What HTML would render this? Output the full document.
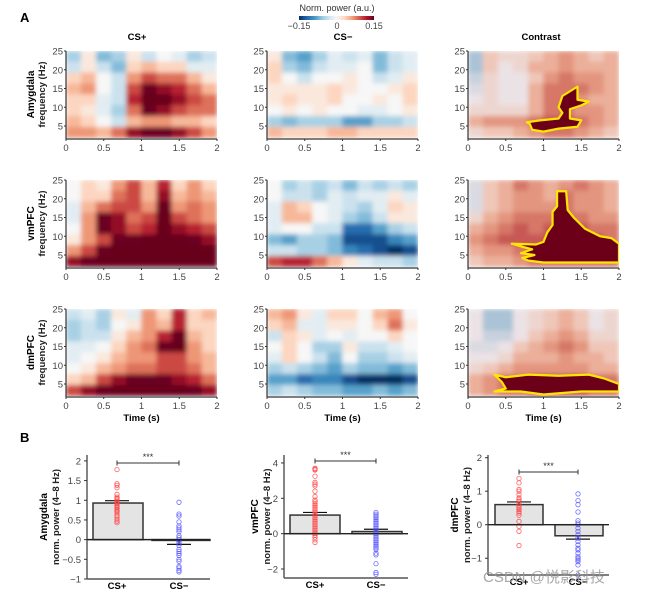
<!DOCTYPE html>
<html><head><meta charset="utf-8">
<style>
html,body{margin:0;padding:0;background:#fff;}
svg{display:block;font-family:"Liberation Sans",Arial,sans-serif;}
</style></head>
<body>
<svg id="fig" width="652" height="594" viewBox="0 0 652 594" xmlns="http://www.w3.org/2000/svg">
<defs>
<linearGradient id="cbar" x1="0" x2="1" y1="0" y2="0">
<stop offset="0" stop-color="#053061"/><stop offset="0.1" stop-color="#2166ac"/><stop offset="0.2" stop-color="#4393c3"/><stop offset="0.3" stop-color="#92c5de"/><stop offset="0.4" stop-color="#d1e5f0"/><stop offset="0.5" stop-color="#f7f7f7"/><stop offset="0.6" stop-color="#fddbc7"/><stop offset="0.7" stop-color="#f4a582"/><stop offset="0.8" stop-color="#d6604d"/><stop offset="0.9" stop-color="#b2182b"/><stop offset="1" stop-color="#67001f"/>
</linearGradient>
<filter id="blur" x="0" y="0" width="1" height="1"><feGaussianBlur stdDeviation="2.5" edgeMode="duplicate"/></filter>
</defs>
<text x="20" y="22" font-size="13" font-weight="bold">A</text>
<text x="20" y="442" font-size="13" font-weight="bold">B</text>
<text x="337" y="11" font-size="9" fill="#333" text-anchor="middle">Norm. power (a.u.)</text>
<rect x="299" y="16" width="75" height="4" fill="url(#cbar)"/>
<text x="299" y="29" font-size="9" fill="#444" text-anchor="middle">−0.15</text>
<text x="337" y="29" font-size="9" fill="#444" text-anchor="middle">0</text>
<text x="374" y="29" font-size="9" fill="#444" text-anchor="middle">0.15</text>
<text x="137" y="40" font-size="9.5" font-weight="bold" text-anchor="middle">CS+</text>
<text x="343" y="40" font-size="9.5" font-weight="bold" text-anchor="middle">CS−</text>
<text x="541" y="40" font-size="9.5" font-weight="bold" text-anchor="middle">Contrast</text>
</svg>
<script>
// ---- heatmap data: rows = freq bands from 25 Hz down to ~2 Hz, cols = time bins 0..2 s ----
const timeTicks=[0,0.5,1,1.5,2];
const freqTicks=[5,10,15,20,25];
const regionNames=["Amygdala","vmPFC","dmPFC"];
const amyCSp=[[-0.3,0.1,-0.4,-0.3,0.1,-0.2,0,-0.1,-0.3,-0.2],[-0.2,0.1,-0.2,-0.4,0.2,0.3,0.2,0.2,-0.1,-0.1],[0.2,0.3,0,-0.2,0.4,0.6,0.5,0.5,0.3,0.1],[0.3,0.4,0,-0.2,0.6,0.9,0.8,0.7,0.5,0.3],[0.2,0.2,-0.1,-0.2,0.7,1,1,0.8,0.6,0.5],[0.2,0.1,-0.1,-0.3,0.5,0.9,0.8,0.6,0.5,0.5],[0.3,0.2,0,-0.2,0.3,0.4,0.4,0.3,0.3,0.2],[0.4,0.4,0.3,0.5,0.8,0.9,0.9,0.8,0.6,0.4]];
const amyCSm=[[0.1,-0.4,-0.5,-0.3,-0.1,-0.2,-0.1,-0.4,-0.2,-0.1],[0.2,-0.3,-0.4,-0.2,-0.1,-0.1,0,-0.4,-0.2,-0.1],[0.2,0,-0.2,0,0,0.1,0,-0.2,-0.1,0.1],[0.1,0.1,0.1,0.1,0.2,0.1,0,0,0.1,0.2],[0.1,0.2,0.1,0.1,0.2,0,0,0.1,0,0.2],[0,0.1,0,0.1,0,0,-0.1,-0.1,0,0.1],[-0.3,-0.4,-0.3,-0.3,-0.3,-0.5,-0.5,-0.3,-0.3,-0.2],[0.3,0.2,0.2,0.2,0.3,0.3,0.2,0.2,0.2,0.2]];
const amyCon=[[-0.3,0.2,0.1,0.1,0.2,0.3,0.4,0.3,0.2,0.3],[-0.3,0.2,0,0.1,0.3,0.3,0.4,0.3,0.3,0.3],[-0.2,0.1,0,0,0.2,0.4,0.5,0.4,0.4,0.3],[-0.1,0.1,0,0,0.3,0.5,0.5,0.5,0.4,0.3],[0,0.1,0,0,0.3,0.5,0.5,0.4,0.3,0.3],[0.1,0.1,0.1,0.1,0.3,0.5,0.5,0.4,0.4,0.3],[0.3,0.4,0.4,0.4,0.5,0.6,0.6,0.5,0.4,0.3],[0.1,0.2,0.2,0.3,0.4,0.5,0.5,0.4,0.3,0.2]];
const vmCSp=[[0,0.2,0.1,0.4,0.6,0.3,0.7,0.2,0.4,0.2],[0,0.2,0.2,0.5,0.6,0.3,0.8,0.3,0.4,0.3],[-0.1,0.3,0.5,0.6,0.6,0.4,0.9,0.4,0.5,0.4],[-0.1,0.4,0.9,0.8,0.5,0.6,1,0.6,0.5,0.4],[0,0.4,0.9,0.8,0.6,0.7,1,0.8,0.7,0.6],[0.1,0.4,0.6,0.9,0.9,1,1,1,0.9,0.8],[0.4,0.6,0.9,1,1,1,1,1,1,1],[0.8,0.9,1,1,1,1,1,1,1,1]];
const vmCSm=[[0,-0.3,-0.2,-0.3,-0.2,-0.4,-0.2,-0.3,-0.2,-0.3],[0,-0.2,-0.2,-0.3,-0.1,-0.2,-0.1,-0.1,0.1,-0.1],[-0.1,0.3,0.2,0,-0.1,-0.2,-0.3,-0.1,0.2,0.1],[-0.1,0.3,0.3,0,-0.1,-0.3,-0.4,-0.2,0.1,0.1],[-0.1,0,0,-0.2,-0.2,-0.7,-0.7,-0.5,-0.3,-0.2],[-0.4,-0.5,-0.3,-0.3,-0.4,-0.8,-0.8,-0.8,-0.6,-0.5],[-0.2,-0.2,-0.3,-0.3,-0.4,-0.6,-0.7,-0.8,-0.9,-0.8],[0.6,0.7,0.7,0.5,0.3,0.1,-0.1,-0.2,-0.2,-0.3]];
const vmCon=[[-0.1,0.2,0.3,0.5,0.4,0.3,0.4,0.5,0.4,0.3],[-0.1,0.2,0.3,0.4,0.4,0.3,0.5,0.4,0.4,0.3],[-0.1,0.2,0.3,0.4,0.4,0.4,0.5,0.4,0.4,0.3],[0.1,0.3,0.4,0.5,0.5,0.5,0.5,0.5,0.4,0.4],[0.3,0.4,0.5,0.6,0.5,0.6,0.6,0.6,0.5,0.5],[0.4,0.5,0.6,0.6,0.6,0.6,0.6,0.6,0.6,0.5],[0.3,0.4,0.4,0.5,0.6,0.6,0.6,0.6,0.6,0.6],[0.2,0.3,0.3,0.4,0.5,0.5,0.5,0.5,0.5,0.5]];
const dmCSp=[[-0.2,-0.1,-0.3,0.1,-0.1,0.4,0.2,0.7,0.2,0.3],[-0.3,-0.2,-0.3,0,0.1,0.4,0.3,0.7,0.2,0.2],[-0.3,-0.2,-0.2,0.1,0.3,0.4,0.7,0.9,0.3,0.2],[-0.1,-0.1,0,0.2,0.4,0.5,0.9,1,0.4,0.2],[-0.1,0,0.1,0.3,0.4,0.4,0.6,0.6,0.4,0.3],[0,0.1,0.3,0.4,0.5,0.5,0.6,0.6,0.5,0.3],[0.2,0.3,0.6,0.8,0.9,0.9,0.9,0.8,0.7,0.5],[0.6,0.8,0.9,1,1,1,1,1,0.9,0.8]];
const dmCSm=[[0.3,0.4,0.1,-0.1,0.2,0.2,0,0.3,0.4,0],[0.2,0.3,-0.1,-0.1,0.1,0.1,0,0.2,0.5,0.1],[-0.2,0.2,0.1,-0.1,0,-0.1,0,0,0.2,0],[0,0.2,0,-0.3,-0.3,0.1,-0.2,-0.2,-0.1,0],[-0.1,0.2,0,-0.2,-0.4,0,-0.3,-0.3,-0.2,-0.1],[-0.3,-0.2,-0.3,-0.4,-0.5,-0.3,-0.4,-0.4,-0.5,-0.4],[-0.5,-0.5,-0.7,-0.6,-0.6,-0.8,-0.9,-0.9,-1,-0.8],[-0.3,-0.2,-0.3,-0.4,-0.4,-0.5,-0.5,-0.4,-0.5,-0.4]];
const dmCon=[[0,-0.3,-0.3,0,0.1,0.2,0.3,0.2,0,0.1],[0,-0.3,-0.3,0,0.1,0.2,0.3,0.2,0,0.1],[0,-0.2,-0.2,0,0.2,0.3,0.4,0.3,0.1,0.1],[-0.1,-0.1,0,0.2,0.3,0.4,0.5,0.4,0.2,0.2],[0,0,0.1,0.3,0.3,0.3,0.4,0.3,0.3,0.2],[0.1,0.2,0.3,0.4,0.4,0.4,0.4,0.4,0.3,0.3],[0.3,0.4,0.5,0.5,0.6,0.6,0.6,0.6,0.5,0.5],[0.3,0.4,0.5,0.5,0.6,0.6,0.6,0.6,0.5,0.5]];
// significant cluster outlines: [time (s), freq (Hz)]
const amyCluster=[[0.78,6],[0.95,6.5],[1.2,7],[1.25,8.5],[1.2,10],[1.25,13],[1.45,15.5],[1.45,12],[1.6,11.5],[1.5,10.5],[1.35,9.5],[1.35,7],[1.5,6.5],[1.45,4.8],[1.2,4.3],[1.0,3.5],[0.85,4],[0.82,5.5]];
const vmCluster=[[0.58,8],[0.9,7.8],[1.0,8.5],[1.05,11],[1.12,13],[1.12,16.5],[1.18,18],[1.18,22],[1.3,22],[1.32,17],[1.4,15],[1.55,12],[1.75,10],[1.9,9.5],[2,8],[2,3],[1.0,3],[0.8,3.5],[0.72,4.2],[0.88,5],[0.7,5.5],[0.85,6.5],[0.7,7.3]];
const dmCluster=[[0.35,7.5],[0.5,6.8],[0.8,7.5],[1.2,7.2],[1.6,7.5],[1.8,6.5],[2,5],[2,3],[1.5,3],[1.0,2.2],[0.7,3],[0.35,3],[0.5,3.8],[0.45,5.5]];
// ---- bar chart data (B) ----
const barCats=["CS+","CS−"];
const amyMeans=[0.93,-0.02], amyErr=[0.06,0.1];
const vmMeans=[1.05,0.12], vmErr=[0.15,0.13];
const dmMeans=[0.6,-0.33], dmErr=[0.08,0.1];
const amyPts=[[1.78,1.42,1.38,1.32,1.15,1.08,1.05,1.02,0.98,0.95,0.92,0.88,0.85,0.82,0.78,0.75,0.72,0.68,0.62,0.58,0.52,0.47,0.43],[0.95,0.65,0.6,0.45,0.35,0.3,0.25,0.2,0.1,0.05,0,-0.05,-0.1,-0.15,-0.25,-0.3,-0.35,-0.4,-0.5,-0.55,-0.68,-0.72,-0.78,-0.82]];
const vmPts=[[3.7,3.65,3.6,3.25,2.9,2.8,2.7,2.4,2.1,1.9,1.8,1.7,1.6,1.5,1.4,1.3,1.2,1.1,1.0,0.9,0.8,0.7,0.6,0.5,0.4,0.3,0.2,0.1,0,-0.1,-0.2,-0.35,-0.5],[1.2,1.1,1.0,0.9,0.8,0.7,0.6,0.5,0.4,0.3,0.2,0.1,0,-0.1,-0.2,-0.3,-0.4,-0.5,-0.6,-0.7,-0.8,-0.9,-1.1,-1.2,-1.7,-2.2,-2.3]];
const dmPts=[[1.38,1.25,1.05,1.0,0.9,0.8,0.75,0.7,0.62,0.55,0.5,0.45,0.4,0.35,0.28,0.1,-0.05,-0.2,-0.62],[0.92,0.72,0.6,0.38,0.12,0.05,0,-0.1,-0.2,-0.3,-0.4,-0.5,-0.6,-0.7,-0.75,-0.85,-0.95,-1.0,-1.05,-1.1,-1.2,-1.5]];
const amyTicks=[-1,-0.5,0,0.5,1,1.5,2], amyTickLabels=["−1","−0.5","0","0.5","1","1.5","2"];
const vmTicks=[-2,0,2,4], vmTickLabels=["−2","0","2","4"];
const dmTicks=[-1,0,1,2], dmTickLabels=["−1","0","1","2"];

const NS="http://www.w3.org/2000/svg";
const svg=document.getElementById('fig');
function mk(tag,attrs,parent){const e=document.createElementNS(NS,tag);for(const k in attrs)e.setAttribute(k,attrs[k]);(parent||svg).appendChild(e);return e;}
const stops=[[5,48,97],[33,102,172],[67,147,195],[146,197,222],[209,229,240],[247,247,247],[253,219,199],[244,165,130],[214,96,77],[178,24,43],[103,0,31]];
function cmap(v,muted){v=Math.max(-1,Math.min(1,v*1.1));let t=(v+1)/2*10;let i=Math.min(9,Math.floor(t));let f=t-i;let c=stops[i].map((a,k)=>a+(stops[i+1][k]-a)*f);
 if(muted){c=c.map((a,k)=>a*0.8+[185,140,155][k]*0.2);}return 'rgb('+c.map(Math.round).join(',')+')';}
const FMIN=1.8,FMAX=25;
function heat(id,x0,y0,w,h,grid,muted,cluster,showTimeLabel){
 const xS=t=>x0+t/2*w, yS=f=>y0+(FMAX-f)/(FMAX-FMIN)*h;
 const g=mk('g',{});
 
 
 const cp=mk('clipPath',{id:'cp-'+id},g);mk('rect',{x:x0,y:y0,width:w,height:h},cp);
 const cells=mk('g',{'clip-path':'url(#cp-'+id+')'},g);
 const inner=mk('g',{filter:'url(#blur)'},cells);
 const nr=grid.length,nc=grid[0].length,df=(FMAX-FMIN)/nr,dt=2/nc;
 grid.forEach((row,r)=>row.forEach((v,c)=>{
  const fTop=FMAX-r*df,fBot=fTop-df,t0=c*dt;
  const re=mk('rect',{x:xS(t0)-0.2,y:yS(fTop)-0.2,width:xS(t0+dt)-xS(t0)+0.4,height:yS(fBot)-yS(fTop)+0.4,fill:cmap(v,muted)},inner);
  
  
 }));
 if(cluster){const p=mk('polygon',{points:cluster.map(q=>xS(q[0])+','+yS(q[1])).join(' '),fill:'#6b0018',stroke:'#ffe600','stroke-width':2.2,'stroke-linejoin':'round'},cells);
  
  }
 mk('line',{x1:x0,y1:y0,x2:x0,y2:y0+h+1,stroke:'#333','stroke-width':1.2},g);
 mk('line',{x1:x0,y1:y0+h+1,x2:x0+w,y2:y0+h+1,stroke:'#333','stroke-width':1.2},g);
 freqTicks.forEach(f=>{mk('line',{x1:x0-2,x2:x0,y1:yS(f),y2:yS(f),stroke:'#333'},g);
  const tx=mk('text',{x:x0-3,y:yS(f)+3.5,'font-size':9.5,fill:'#444','text-anchor':'end'},g);tx.textContent=f;
  
  });
 timeTicks.forEach(t=>{mk('line',{x1:xS(t),x2:xS(t),y1:y0+h+1,y2:y0+h+3,stroke:'#333'},g);
  const tx=mk('text',{x:xS(t),y:y0+h+13,'font-size':9.5,fill:'#444','text-anchor':'middle'},g);tx.textContent=t;
  
  });
 if(showTimeLabel){const tx=mk('text',{x:x0+w/2,y:y0+h+25,'font-size':9.5,'font-weight':'bold','text-anchor':'middle'},g);tx.textContent='Time (s)';
  
  }
}
const colsX=[66,267,468],PW=151,PH=87,rowsY=[51,180,309];
const grids=[[amyCSp,amyCSm,amyCon],[vmCSp,vmCSm,vmCon],[dmCSp,dmCSm,dmCon]];
const clusters=[amyCluster,vmCluster,dmCluster];
const condNames=['cs-plus','cs-minus','contrast'];
rowsY.forEach((y,r)=>{
 colsX.forEach((x,c)=>heat('heatmap-'+regionNames[r].toLowerCase()+'-'+condNames[c],x,y,PW,PH,grids[r][c],c===2,c===2?clusters[r]:null,r===2));
 const cy=y+PH/2;
 const t1=mk('text',{x:0,y:0,'font-size':10,'font-weight':'bold','text-anchor':'middle',transform:`translate(34,${cy}) rotate(-90)`});t1.textContent=regionNames[r];
 
 
 const t2=mk('text',{x:0,y:0,'font-size':9.5,'font-weight':'bold','text-anchor':'middle',fill:'#222',transform:`translate(45,${cy}) rotate(-90)`});t2.textContent='frequency (Hz)';
 
 
});
function bars(id,ax,xEnd,yTop,yBot,vmin,vmax,ticks,tickLabels,means,errs,pts,barX,barW,labX,sigY,region,labX1,labX2){
 const yS=v=>yBot-(v-vmin)/(vmax-vmin)*(yBot-yTop);
 const g=mk('g',{});
 
 
 means.forEach((m,i)=>{const y0=yS(0),ym=yS(m);
  const b=mk('rect',{x:barX[i],y:Math.min(y0,ym),width:barW[i],height:Math.abs(ym-y0),fill:'#e4e4e4',stroke:'#333','stroke-width':1.5},g);
  
  
  const ye=yS(m+(m>=0?errs[i]:-errs[i]));
  mk('line',{x1:labX[i],x2:labX[i],y1:ym,y2:ye,stroke:'#111','stroke-width':1.2},g);
  mk('line',{x1:labX[i]-12,x2:labX[i]+12,y1:ye,y2:ye,stroke:'#111','stroke-width':1.2},g);
  pts[i].forEach(v=>{const c=mk('circle',{cx:labX[i],cy:yS(v),r:2.2,fill:'none',stroke:i?'#5555ff':'#ff4444','stroke-width':0.8,opacity:0.85},g);
   
   });
 });
 mk('line',{x1:ax,x2:xEnd,y1:yS(0),y2:yS(0),stroke:'#222','stroke-width':1.4},g);
 mk('line',{x1:ax,x2:ax,y1:yTop,y2:yBot,stroke:'#333','stroke-width':1.2},g);
 mk('line',{x1:ax,x2:xEnd,y1:yBot,y2:yBot,stroke:'#555','stroke-width':1.6},g);
 ticks.forEach((t,i)=>{mk('line',{x1:ax-3,x2:ax,y1:yS(t),y2:yS(t),stroke:'#333'},g);
  const tx=mk('text',{x:ax-6,y:yS(t)+3.5,'font-size':9.5,fill:'#444','text-anchor':'end'},g);tx.textContent=tickLabels[i];
  
  });
 barCats.forEach((c,i)=>{const tx=mk('text',{x:labX[i],y:yBot+10,'font-size':9.5,'font-weight':'bold','text-anchor':'middle'},g);tx.textContent=c;
  
  });
 mk('line',{x1:labX[0],x2:labX[1],y1:sigY,y2:sigY,stroke:'#333'},g);
 mk('line',{x1:labX[0],x2:labX[0],y1:sigY-2.5,y2:sigY+2.5,stroke:'#333'},g);
 mk('line',{x1:labX[1],x2:labX[1],y1:sigY-2.5,y2:sigY+2.5,stroke:'#333'},g);
 const st=mk('text',{x:(labX[0]+labX[1])/2,y:sigY-3,'font-size':9,'text-anchor':'middle',fill:'#333'},g);st.textContent='***';
 
 
 const cy=(yTop+yBot)/2;
 const t1=mk('text',{x:0,y:0,'font-size':10,'font-weight':'bold','text-anchor':'middle',transform:`translate(${labX1},${cy}) rotate(-90)`},g);t1.textContent=region;
 
 
 const t2=mk('text',{x:0,y:0,'font-size':9.5,'font-weight':'bold','text-anchor':'middle',fill:'#222',transform:`translate(${labX2},${cy}) rotate(-90)`},g);t2.textContent='norm. power (4–8 Hz)';
 
 
}
bars('bar-chart-amygdala',87,210,455,579,-1,2.15,amyTicks,amyTickLabels,amyMeans,amyErr,amyPts,[93,152],[50,58],[117,179],463,'Amygdala',47,59);
bars('bar-chart-vmpfc',284,408,455,578,-2.51,4.45,vmTicks,vmTickLabels,vmMeans,vmErr,vmPts,[290,352],[50,50],[315,376],461,'vmPFC',258,270);
bars('bar-chart-dmpfc',488,609,455,575,-1.5,2.08,dmTicks,dmTickLabels,dmMeans,dmErr,dmPts,[495,555],[48,48],[519,578],472,'dmPFC',458,470);
const wm=mk('text',{x:483,y:582,'font-size':15,fill:'#999',opacity:0.85});
wm.textContent='CSDN @悦影科技';


</script>
</body></html>
